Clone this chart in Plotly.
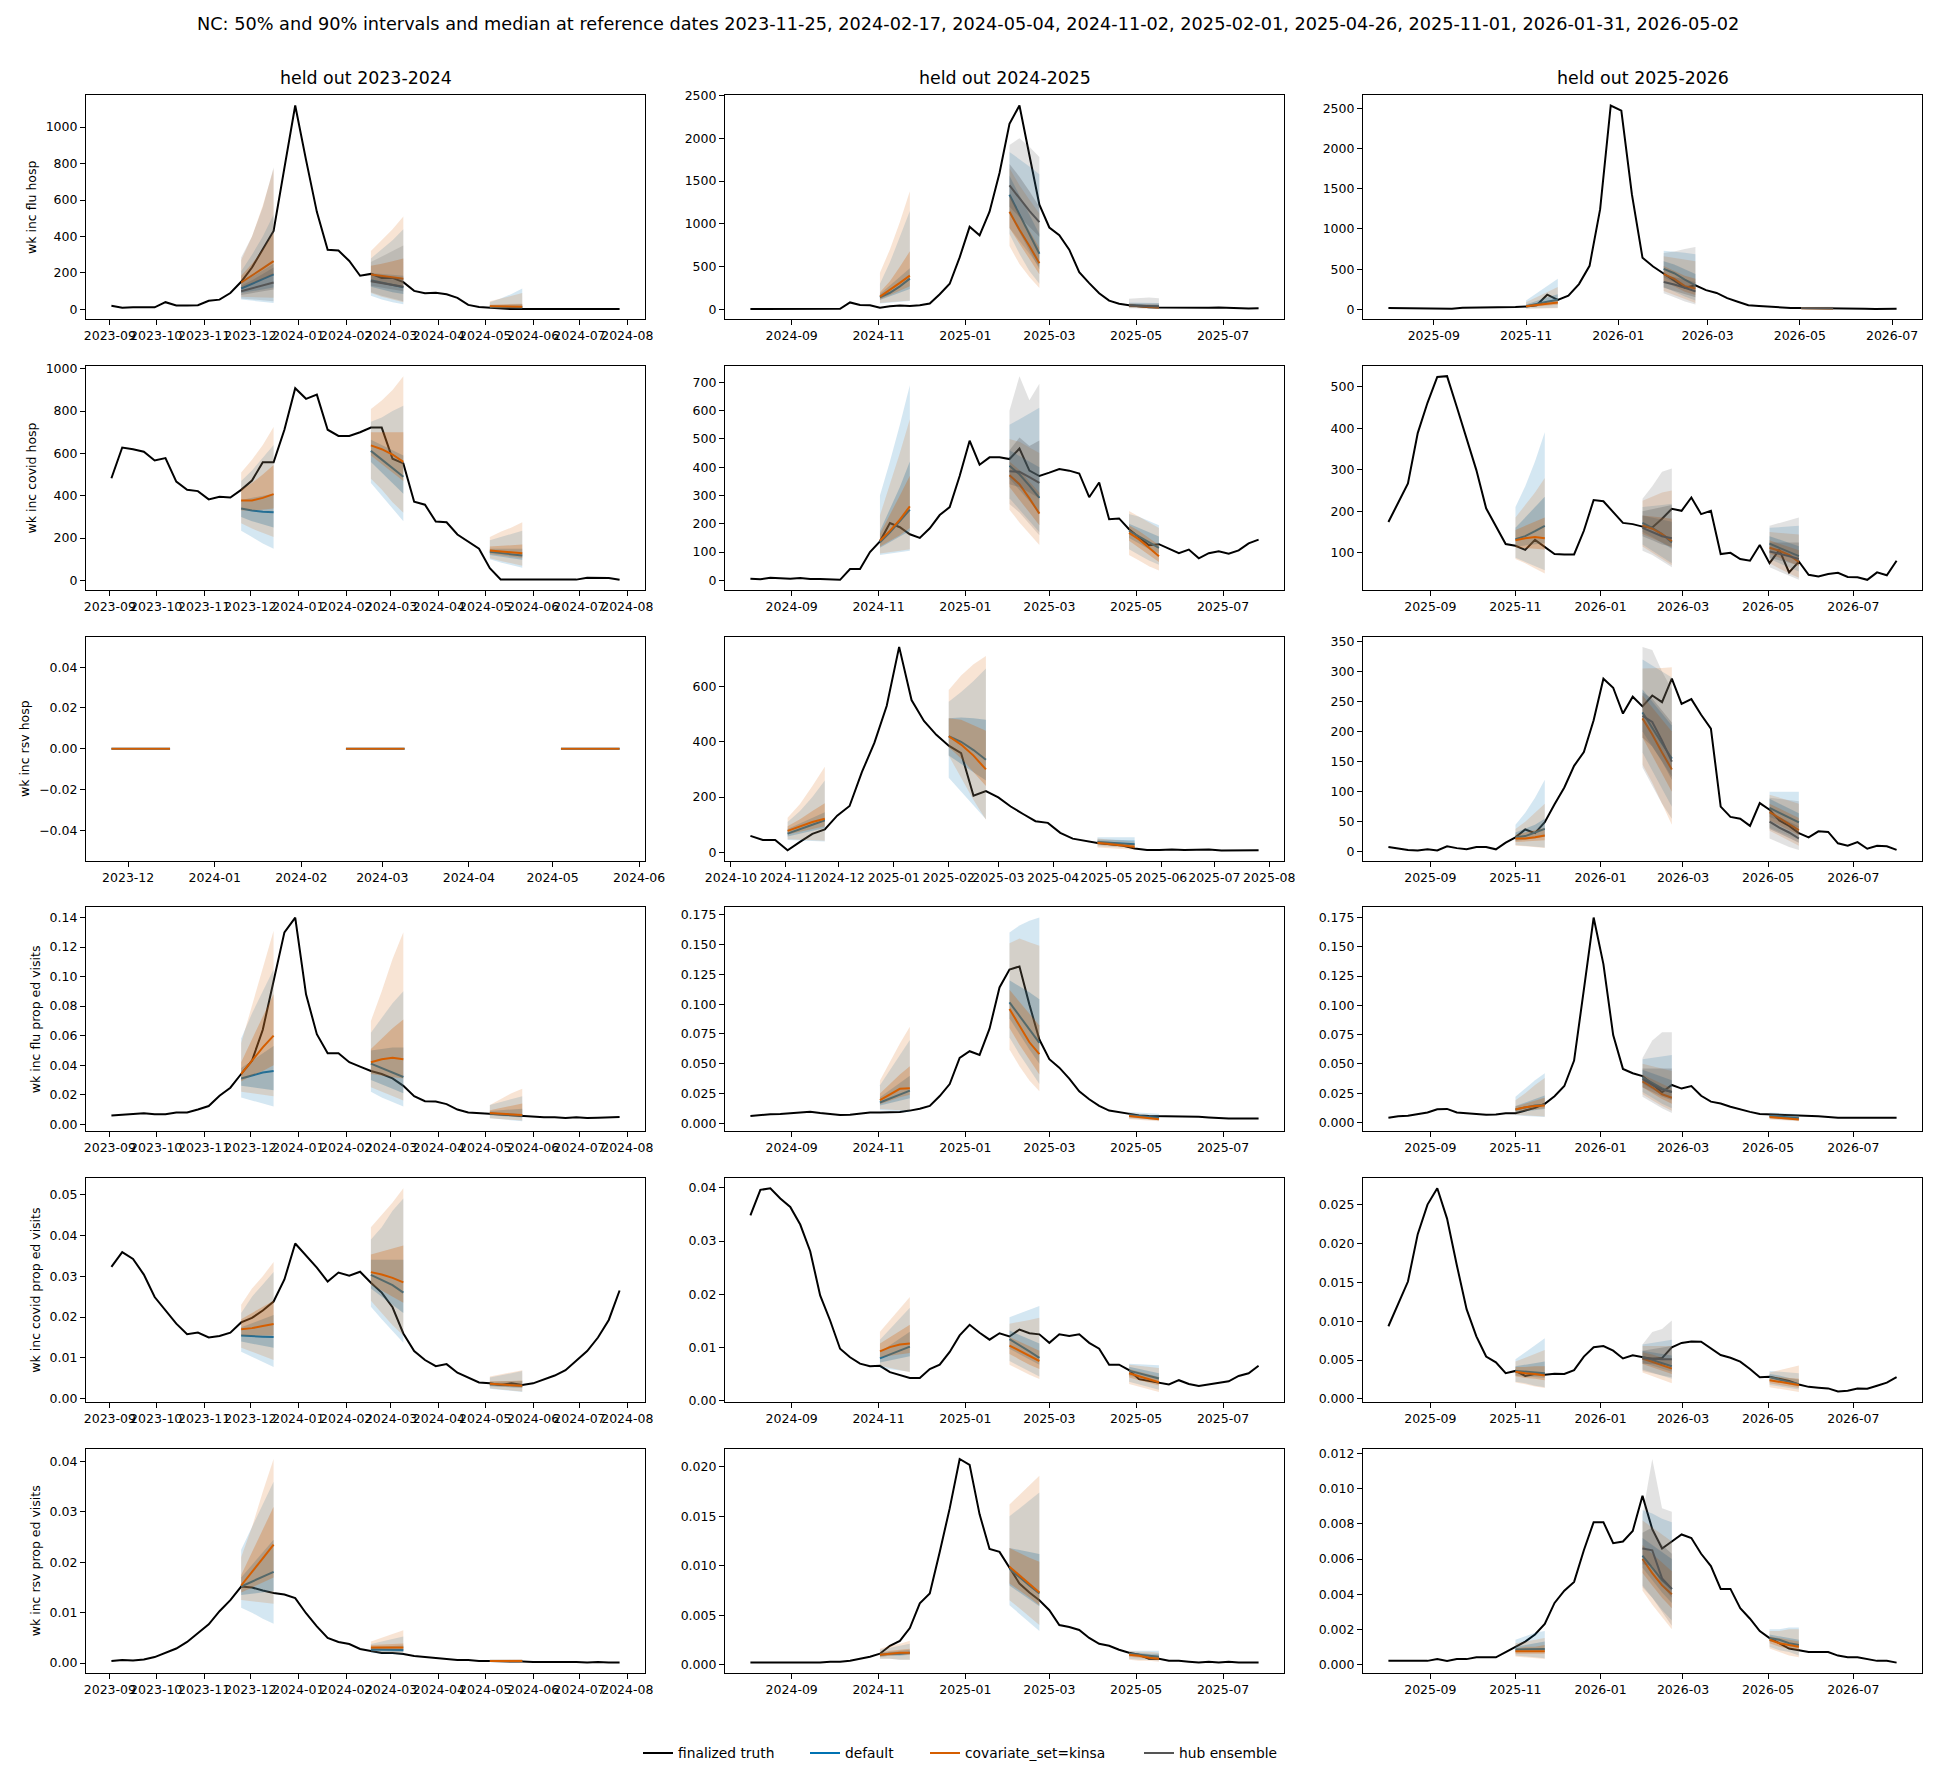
import pandas as pd
import plotly.graph_objects as go
from plotly.subplots import make_subplots

# ---------------------------------------------------------------- data
TARGET_LABELS = ["wk inc flu hosp", "wk inc covid hosp", "wk inc rsv hosp",
                 "wk inc flu prop ed visits", "wk inc covid prop ed visits",
                 "wk inc rsv prop ed visits"]
TARGET_KEYS = ["FLU_HOSP", "COVID_HOSP", "RSV_HOSP", "FLU_ED", "COVID_ED", "RSV_ED"]
SEASON_KEYS = ["2324", "2425", "2526"]
SEASON_TITLES = ["held out 2023-2024", "held out 2024-2025", "held out 2025-2026"]
MODEL_KEYS = ["DEFAULT", "KINSA", "HUB"]
MODEL_NAMES = ["default", "covariate_set=kinsa", "hub ensemble"]
HORIZON_WEEKS = [0, 1, 2, 3]

REF_DATES_2324 = ["2023-11-25", "2024-02-17", "2024-05-04"]
REF_DATES_2425 = ["2024-11-02", "2025-02-01", "2025-04-26"]
REF_DATES_2526 = ["2025-11-01", "2026-01-31", "2026-05-02"]

TRUTH_START_2324 = "2023-09-02"
TRUTH_START_2425 = "2024-08-03"
TRUTH_START_2526 = "2025-08-02"
TRUTH_START_RSV_HOSP_2425 = "2024-10-12"

# finalized truth (weekly)
FLU_HOSP_2324 = [20, 10, 12, 14, 12, 40, 22, 22, 23, 48, 54, 90, 152, 230, 333, 430, 776, 1118, 820, 535,
                 327, 323, 266, 185, 195, 173, 173, 150, 102, 89, 92, 83, 64, 25, 14, 10, 4, 2, 2, 2,
                 2, 2, 2, 2, 3, 4, 4, 2]
COVID_HOSP_2324 = [483, 628, 620, 608, 567, 578, 467, 428, 422, 383, 395, 392, 428, 472, 558, 558, 712, 908,
                   858, 878, 712, 683, 683, 700, 722, 722, 575, 553, 372, 358, 278, 275, 217, 183, 150, 58,
                   5, 4, 3, 3, 4, 4, 4, 4, 13, 12, 12, 3]
RSV_HOSP_2324 = []
FLU_ED_2324 = [0.0059, 0.0064, 0.0069, 0.0074, 0.0067, 0.0067, 0.0079, 0.0079, 0.0099, 0.0123, 0.0193,
               0.0247, 0.034, 0.043, 0.064, 0.096, 0.130, 0.140, 0.088, 0.061, 0.048, 0.048, 0.042, 0.039,
               0.036, 0.034, 0.031, 0.026, 0.019, 0.0156, 0.0153, 0.0136, 0.0099, 0.0079, 0.0074, 0.0069,
               0.0062, 0.0057, 0.0054, 0.0049, 0.0047, 0.0047, 0.0042, 0.0047, 0.0042, 0.0044, 0.0047, 0.0049]
COVID_ED_2324 = [0.0323, 0.0359, 0.0342, 0.0304, 0.0249, 0.0215, 0.0184, 0.0158, 0.0162, 0.015, 0.0154,
                 0.0162, 0.0187, 0.0198, 0.0216, 0.0238, 0.0292, 0.038, 0.035, 0.0321, 0.0287, 0.0309,
                 0.0301, 0.0311, 0.0284, 0.026, 0.0224, 0.016, 0.0117, 0.0095, 0.008, 0.0085, 0.0064,
                 0.0052, 0.004, 0.0038, 0.0034, 0.0038, 0.0034, 0.0038, 0.0047, 0.0057, 0.007, 0.0093,
                 0.0117, 0.015, 0.0193, 0.0265]
RSV_ED_2324 = [0.0004, 0.0006, 0.0005, 0.0007, 0.0012, 0.002, 0.0029, 0.0042, 0.0059, 0.0077, 0.0103,
               0.0125, 0.0152, 0.015, 0.0144, 0.0139, 0.0136, 0.0129, 0.0099, 0.0073, 0.005, 0.0042,
               0.0038, 0.0028, 0.0024, 0.002, 0.002, 0.0018, 0.0014, 0.0012, 0.0009, 0.0008, 0.0006,
               0.0006, 0.0004, 0.0004, 0.0004, 0.0003, 0.0003, 0.0002, 0.0002, 0.0003, 0.0002, 0.0002,
               0.0001, 0.0002, 0.0001, 0.0001]

FLU_HOSP_2425 = [4, 5, 4, 5, 5, 4, 5, 5, 4, 8, 82, 53, 49, 20, 37, 45, 41, 49, 70, 177, 300, 608, 965, 866,
                 1142, 1593, 2168, 2382, 1800, 1224, 957, 866, 698, 435, 308, 189, 103, 66, 49, 37, 25,
                 22, 20, 18, 22, 16, 20, 22, 16, 12, 12, 14]
COVID_HOSP_2425 = [6, 4, 9, 8, 6, 8, 5, 5, 4, 2, 40, 40, 100, 138, 203, 188, 163, 150, 184, 231, 259, 369,
                   494, 409, 435, 435, 429, 466, 388, 369, 381, 394, 388, 378, 294, 346, 216, 219, 181,
                   154, 124, 128, 113, 96, 109, 78, 96, 103, 94, 106, 131, 144]
RSV_HOSP_2425 = [60, 45, 45, 8, 38, 67, 83, 133, 168, 291, 396, 530, 743, 551, 475, 425, 386, 359, 205,
                 222, 199, 166, 139, 113, 107, 71, 50, 41, 34, 30, 25, 14, 9, 9, 11, 9, 9, 11, 7, 7, 7, 8]
FLU_ED_2425 = [0.0061, 0.007, 0.0076, 0.0079, 0.0086, 0.0089, 0.0098, 0.0086, 0.0079, 0.007, 0.0073,
               0.0082, 0.0092, 0.0092, 0.0092, 0.0095, 0.0107, 0.0122, 0.0147, 0.0229, 0.033, 0.055,
               0.0605, 0.0574, 0.0794, 0.114, 0.129, 0.1316, 0.0996, 0.0703, 0.0538, 0.0467, 0.0376,
               0.0269, 0.0202, 0.0147, 0.0107, 0.0092, 0.0079, 0.0067, 0.0061, 0.0061, 0.0061, 0.0061,
               0.0058, 0.0055, 0.0049, 0.0043, 0.004, 0.004, 0.004, 0.004]
COVID_ED_2425 = [0.0348, 0.0396, 0.0399, 0.038, 0.0364, 0.0331, 0.0281, 0.0198, 0.0151, 0.0098, 0.0082,
                 0.007, 0.0065, 0.0066, 0.0054, 0.0049, 0.0043, 0.0043, 0.006, 0.0068, 0.0092, 0.0123,
                 0.0143, 0.0128, 0.0115, 0.0127, 0.0121, 0.0134, 0.0127, 0.0125, 0.0109, 0.0125, 0.0122,
                 0.0125, 0.0109, 0.0098, 0.0068, 0.0068, 0.0058, 0.0041, 0.0038, 0.0034, 0.0031, 0.0039,
                 0.0032, 0.0028, 0.0031, 0.0035, 0.0037, 0.0047, 0.0052, 0.0066]
RSV_ED_2425 = [0.0002, 0.0002, 0.0002, 0.0002, 0.0002, 0.0002, 0.0002, 0.0002, 0.0003, 0.0003, 0.0004,
               0.0006, 0.0008, 0.0011, 0.0019, 0.0024, 0.0037, 0.0062, 0.0072, 0.0114, 0.0158, 0.0208,
               0.0202, 0.0152, 0.0117, 0.0114, 0.0098, 0.0082, 0.0073, 0.0065, 0.0055, 0.004, 0.0038,
               0.0035, 0.0027, 0.0021, 0.0019, 0.0015, 0.0012, 0.001, 0.0006, 0.0006, 0.0004, 0.0004,
               0.0003, 0.0002, 0.0003, 0.0002, 0.0003, 0.0002, 0.0002, 0.0002]

FLU_HOSP_2526 = [17, 15, 14, 13, 12, 10, 9, 22, 22, 22, 26, 26, 30, 35, 52, 183, 118, 170, 315, 542, 1246,
                 2535, 2470, 1430, 642, 533, 446, 358, 270, 300, 240, 205, 140, 96, 52, 44, 35, 17, 17,
                 17, 17, 13, 9, 13, 13, 9, 4, 9, 9]
COVID_HOSP_2526 = [174, 221, 267, 388, 461, 523, 525, 451, 375, 299, 207, 163, 121, 117, 107, 131, 113, 97,
                   96, 96, 153, 227, 224, 199, 172, 169, 163, 161, 182, 206, 201, 233, 193, 201, 97, 100,
                   85, 81, 119, 75, 107, 53, 79, 47, 43, 49, 52, 42, 41, 35, 53, 46, 81]
RSV_HOSP_2526 = [8, 5, 3, 2, 4, 2, 9, 6, 4, 8, 8, 4, 15, 24, 37, 31, 49, 79, 107, 143, 166, 219, 288, 273,
                 230, 258, 242, 260, 249, 288, 246, 254, 228, 205, 75, 58, 55, 43, 81, 70, 52, 43, 31, 24,
                 34, 33, 14, 10, 16, 5, 10, 9, 3]
FLU_ED_2526 = [0.004, 0.0053, 0.0056, 0.0071, 0.0084, 0.0112, 0.0115, 0.0084, 0.0078, 0.0068, 0.0065,
               0.0068, 0.0078, 0.0078, 0.0099, 0.0124, 0.0159, 0.0224, 0.0311, 0.0528, 0.1135, 0.175,
               0.1352, 0.0746, 0.0457, 0.042, 0.0395, 0.0326, 0.0258, 0.032, 0.0289, 0.0311, 0.0227,
               0.0177, 0.0162, 0.0134, 0.0109, 0.009, 0.0071, 0.0068, 0.0068, 0.0068, 0.0062, 0.0059,
               0.0053, 0.0047, 0.004, 0.004, 0.004, 0.0037, 0.0034, 0.0034, 0.004]
COVID_ED_2526 = [0.00935, 0.0122, 0.0151, 0.0212, 0.025, 0.0271, 0.0232, 0.0172, 0.01155, 0.00805,
                 0.00545, 0.0047, 0.0033, 0.0036, 0.00295, 0.0032, 0.0031, 0.00325, 0.0032, 0.0037,
                 0.00545, 0.00665, 0.0068, 0.0062, 0.0052, 0.0056, 0.00535, 0.00515, 0.00525, 0.00665,
                 0.0072, 0.0074, 0.00735, 0.00645, 0.00565, 0.0053, 0.0048, 0.00385, 0.0028, 0.00285,
                 0.00255, 0.0023, 0.00185, 0.00155, 0.00145, 0.00135, 0.00095, 0.00105, 0.00135, 0.0013,
                 0.0017, 0.0021, 0.0028]
RSV_ED_2526 = [0.0002, 0.0002, 0.0002, 0.0002, 0.0002, 0.0003, 0.0002, 0.0003, 0.0003, 0.0004, 0.0004,
               0.0004, 0.0007, 0.001, 0.0013, 0.0017, 0.0023, 0.0035, 0.0042, 0.0047, 0.0065, 0.0081,
               0.0081, 0.0069, 0.007, 0.0076, 0.0096, 0.0077, 0.0066, 0.007, 0.0074, 0.0072, 0.0063,
               0.0056, 0.0043, 0.0043, 0.0032, 0.0026, 0.0019, 0.0015, 0.0012, 0.0009, 0.0008, 0.0007,
               0.0007, 0.0007, 0.0005, 0.0004, 0.0004, 0.0003, 0.0002, 0.0002, 0.0001]

# forecasts: one entry per reference date, each [q05, q25, median, q75, q95] over horizons 0-3
FLU_HOSP_2324_DEFAULT = [
    [[55, 48, 42, 35], [90, 100, 110, 120], [115, 140, 165, 192], [145, 180, 215, 250], [210, 300, 400, 520]],
    [[75, 55, 40, 28], [125, 110, 95, 85], [160, 148, 135, 122], [200, 195, 190, 185], [280, 330, 380, 440]],
    [[5, 4, 3, 2], [10, 9, 8, 7], [15, 14, 13, 12], [22, 24, 26, 28], [40, 60, 85, 115]]]
FLU_HOSP_2324_KINSA = [
    [[70, 68, 66, 64], [120, 145, 170, 195], [148, 185, 225, 265], [185, 250, 330, 420], [270, 400, 570, 770]],
    [[90, 70, 55, 40], [150, 140, 130, 120], [192, 185, 178, 168], [240, 250, 265, 280], [320, 380, 440, 510]],
    [[6, 5, 4, 3], [12, 11, 10, 9], [18, 17, 16, 15], [26, 28, 30, 32], [45, 60, 75, 90]]]
FLU_HOSP_2324_HUB = [
    [[60, 55, 50, 45], [80, 90, 100, 110], [100, 115, 132, 148], [130, 160, 195, 230], [285, 400, 560, 780]],
    [[95, 75, 60, 45], [130, 120, 110, 100], [155, 145, 135, 125], [185, 180, 175, 170], [260, 290, 320, 350]],
    None]
COVID_HOSP_2324_DEFAULT = [
    [[235, 205, 175, 150], [300, 280, 265, 250], [340, 330, 325, 322], [380, 390, 400, 410], [470, 520, 580, 640]],
    [[460, 400, 340, 280], [560, 510, 460, 410], [612, 570, 530, 490], [665, 640, 615, 590], [750, 770, 800, 825]],
    [[100, 85, 72, 60], [120, 112, 105, 98], [135, 130, 125, 118], [150, 150, 150, 150], [190, 205, 220, 235]]]
COVID_HOSP_2324_KINSA = [
    [[270, 245, 225, 205], [330, 330, 335, 340], [378, 378, 390, 408], [430, 460, 500, 545], [510, 570, 640, 725]],
    [[480, 430, 370, 320], [590, 550, 510, 470], [638, 620, 595, 560], [700, 700, 700, 700], [810, 850, 900, 965]],
    [[105, 92, 80, 70], [125, 118, 112, 106], [142, 138, 133, 128], [160, 163, 166, 170], [205, 230, 250, 275]]]
COVID_HOSP_2324_HUB = [None, None, None]
RSV_HOSP_2324_DEFAULT = [
    [[0, 0, 0, 0], [0, 0, 0, 0], [0, 0, 0, 0], [0, 0, 0, 0], [0, 0, 0, 0]],
    [[0, 0, 0, 0], [0, 0, 0, 0], [0, 0, 0, 0], [0, 0, 0, 0], [0, 0, 0, 0]],
    [[0, 0, 0, 0], [0, 0, 0, 0], [0, 0, 0, 0], [0, 0, 0, 0], [0, 0, 0, 0]]]
RSV_HOSP_2324_KINSA = [
    [[0, 0, 0, 0], [0, 0, 0, 0], [0, 0, 0, 0], [0, 0, 0, 0], [0, 0, 0, 0]],
    [[0, 0, 0, 0], [0, 0, 0, 0], [0, 0, 0, 0], [0, 0, 0, 0], [0, 0, 0, 0]],
    [[0, 0, 0, 0], [0, 0, 0, 0], [0, 0, 0, 0], [0, 0, 0, 0], [0, 0, 0, 0]]]
RSV_HOSP_2324_HUB = [None, None, None]
FLU_ED_2324_DEFAULT = [
    [[0.018, 0.016, 0.014, 0.012], [0.026, 0.025, 0.024, 0.023], [0.031, 0.033, 0.035, 0.036], [0.038, 0.043, 0.048, 0.053], [0.058, 0.075, 0.090, 0.105]],
    [[0.022, 0.018, 0.015, 0.012], [0.030, 0.027, 0.024, 0.021], [0.041, 0.038, 0.035, 0.032], [0.050, 0.051, 0.052, 0.052], [0.062, 0.072, 0.082, 0.090]],
    [[0.004, 0.003, 0.0025, 0.002], [0.006, 0.0055, 0.005, 0.0045], [0.0072, 0.0068, 0.0064, 0.006], [0.009, 0.0095, 0.010, 0.0105], [0.013, 0.015, 0.017, 0.019]]]
FLU_ED_2324_KINSA = [
    [[0.022, 0.021, 0.020, 0.019], [0.029, 0.033, 0.036, 0.040], [0.034, 0.043, 0.052, 0.060], [0.042, 0.058, 0.073, 0.088], [0.055, 0.080, 0.105, 0.131]],
    [[0.025, 0.022, 0.019, 0.016], [0.034, 0.033, 0.032, 0.031], [0.042, 0.044, 0.045, 0.044], [0.051, 0.058, 0.065, 0.071], [0.070, 0.090, 0.112, 0.130]],
    [[0.004, 0.0035, 0.003, 0.0025], [0.0062, 0.0058, 0.0055, 0.005], [0.0075, 0.0071, 0.0066, 0.0062], [0.0095, 0.011, 0.0125, 0.014], [0.013, 0.017, 0.021, 0.024]]]
FLU_ED_2324_HUB = [None, None, None]
COVID_ED_2324_DEFAULT = [
    [[0.0115, 0.0103, 0.009, 0.0078], [0.014, 0.0135, 0.013, 0.0125], [0.0155, 0.0153, 0.0152, 0.0151], [0.0175, 0.0185, 0.0195, 0.0205], [0.021, 0.025, 0.028, 0.031]],
    [[0.0225, 0.0195, 0.0165, 0.0137], [0.027, 0.025, 0.023, 0.021], [0.0303, 0.029, 0.0278, 0.026], [0.034, 0.034, 0.034, 0.034], [0.039, 0.042, 0.046, 0.049]],
    [[0.0025, 0.0022, 0.002, 0.0017], [0.0031, 0.003, 0.0028, 0.0027], [0.0036, 0.0035, 0.0033, 0.0032], [0.0042, 0.0042, 0.0043, 0.0044], [0.0052, 0.0057, 0.0063, 0.0068]]]
COVID_ED_2324_KINSA = [
    [[0.0125, 0.0115, 0.0105, 0.0095], [0.0155, 0.0155, 0.0155, 0.0155], [0.017, 0.0173, 0.0178, 0.0183], [0.0195, 0.021, 0.0225, 0.024], [0.023, 0.027, 0.030, 0.0335]],
    [[0.024, 0.021, 0.018, 0.0155], [0.028, 0.0265, 0.025, 0.0235], [0.031, 0.0304, 0.0296, 0.0285], [0.0353, 0.036, 0.0368, 0.0375], [0.042, 0.045, 0.048, 0.0515]],
    [[0.0026, 0.0023, 0.002, 0.0018], [0.0032, 0.003, 0.0029, 0.0028], [0.0037, 0.0035, 0.0034, 0.0032], [0.0043, 0.0043, 0.0044, 0.0045], [0.0055, 0.006, 0.0065, 0.007]]]
COVID_ED_2324_HUB = [None, None, None]
RSV_ED_2324_DEFAULT = [
    [[0.011, 0.010, 0.0088, 0.0078], [0.0135, 0.0138, 0.014, 0.0143], [0.0152, 0.0162, 0.0172, 0.0181], [0.017, 0.0195, 0.022, 0.0245], [0.0225, 0.027, 0.0315, 0.036]],
    [[0.002, 0.0019, 0.0018, 0.0017], [0.0024, 0.0023, 0.0022, 0.0022], [0.0027, 0.0027, 0.0026, 0.0026], [0.0032, 0.0033, 0.0034, 0.0035], [0.0038, 0.0043, 0.0048, 0.0053]],
    [[0.0002, 0.0002, 0.0002, 0.0002], [0.0003, 0.0003, 0.0003, 0.0003], [0.0004, 0.0004, 0.0004, 0.0004], [0.0005, 0.0005, 0.0005, 0.0005], [0.0007, 0.0007, 0.0007, 0.0007]]]
RSV_ED_2324_KINSA = [
    [[0.0125, 0.0123, 0.012, 0.0118], [0.014, 0.015, 0.016, 0.017], [0.0154, 0.018, 0.0208, 0.0235], [0.0175, 0.022, 0.0265, 0.031], [0.021, 0.027, 0.034, 0.0405]],
    [[0.0022, 0.0021, 0.002, 0.0019], [0.0027, 0.0027, 0.0027, 0.0027], [0.0031, 0.0031, 0.0031, 0.0031], [0.0036, 0.0037, 0.0038, 0.0039], [0.0043, 0.005, 0.0057, 0.0065]],
    [[0.0002, 0.0002, 0.0002, 0.0002], [0.0003, 0.0003, 0.0003, 0.0003], [0.0004, 0.0004, 0.0004, 0.0004], [0.0005, 0.0005, 0.0005, 0.0006], [0.0007, 0.0007, 0.0008, 0.0008]]]
RSV_ED_2324_HUB = [None, None, None]

FLU_HOSP_2425_DEFAULT = [
    [[70, 80, 90, 100], [110, 150, 195, 240], [140, 195, 270, 360], [180, 280, 380, 480], [300, 550, 850, 1150]],
    [[880, 650, 450, 300], [1120, 900, 680, 470], [1340, 1110, 880, 650], [1560, 1330, 1100, 880], [1840, 1760, 1670, 1580]],
    [[25, 20, 15, 10], [38, 33, 28, 23], [50, 45, 40, 35], [62, 58, 54, 50], [80, 80, 78, 75]]]
FLU_HOSP_2425_KINSA = [
    [[75, 85, 95, 105], [115, 165, 220, 270], [150, 225, 310, 395], [200, 330, 500, 680], [430, 700, 1020, 1380]],
    [[740, 530, 380, 250], [950, 770, 590, 410], [1140, 930, 740, 540], [1350, 1120, 920, 720], [1650, 1450, 1280, 1120]],
    [[20, 15, 10, 6], [33, 28, 22, 16], [45, 38, 30, 22], [55, 50, 45, 40], [70, 65, 60, 55]]]
FLU_HOSP_2425_HUB = [
    None,
    [[950, 800, 650, 500], [1200, 1080, 960, 850], [1450, 1300, 1150, 1020], [1700, 1550, 1380, 1200], [1920, 2000, 1900, 1780]],
    [[15, 12, 10, 8], [30, 27, 24, 21], [45, 42, 38, 35], [70, 70, 70, 70], [125, 130, 140, 130]]]
COVID_HOSP_2425_DEFAULT = [
    [[90, 95, 100, 105], [115, 135, 155, 175], [135, 170, 210, 250], [175, 250, 330, 420], [300, 420, 550, 690]],
    [[290, 250, 210, 170], [360, 320, 280, 240], [405, 375, 335, 292], [460, 440, 420, 400], [550, 570, 590, 610]],
    [[110, 90, 70, 55], [150, 130, 110, 95], [175, 155, 135, 115], [200, 185, 170, 155], [235, 225, 210, 195]]]
COVID_HOSP_2425_KINSA = [
    [[95, 100, 105, 110], [120, 140, 160, 185], [140, 175, 215, 262], [165, 230, 300, 370], [230, 340, 450, 570]],
    [[250, 205, 165, 125], [330, 285, 240, 195], [372, 340, 290, 236], [420, 390, 350, 310], [500, 490, 470, 450]],
    [[90, 70, 50, 35], [140, 115, 90, 65], [168, 145, 115, 85], [195, 175, 150, 125], [245, 225, 205, 185]]]
COVID_HOSP_2425_HUB = [
    None,
    [[270, 240, 200, 160], [340, 330, 310, 290], [386, 384, 365, 345], [460, 505, 475, 495], [600, 722, 637, 695]],
    None]
RSV_HOSP_2425_DEFAULT = [
    [[45, 44, 42, 40], [58, 68, 78, 88], [68, 85, 100, 116], [85, 105, 125, 145], [110, 150, 200, 260]],
    [[270, 220, 170, 120], [350, 320, 290, 260], [420, 400, 370, 335], [485, 488, 485, 480], [545, 580, 620, 665]],
    [[22, 20, 18, 16], [30, 28, 26, 24], [38, 36, 33, 30], [47, 46, 45, 44], [55, 55, 55, 55]]]
RSV_HOSP_2425_KINSA = [
    [[48, 46, 44, 42], [65, 75, 85, 95], [78, 95, 110, 122], [95, 120, 150, 178], [125, 175, 240, 310]],
    [[350, 270, 190, 118], [380, 340, 290, 240], [420, 390, 350, 300], [485, 480, 460, 440], [587, 640, 680, 710]],
    [[18, 15, 12, 10], [28, 24, 20, 16], [35, 31, 26, 21], [42, 38, 34, 30], [50, 47, 44, 40]]]
RSV_HOSP_2425_HUB = [None, None, None]
FLU_ED_2425_DEFAULT = [
    [[0.011, 0.0105, 0.010, 0.0095], [0.015, 0.017, 0.019, 0.021], [0.0175, 0.021, 0.0245, 0.0275], [0.022, 0.028, 0.034, 0.040], [0.032, 0.045, 0.058, 0.070]],
    [[0.072, 0.058, 0.045, 0.033], [0.088, 0.075, 0.062, 0.050], [0.1015, 0.090, 0.078, 0.0675], [0.120, 0.115, 0.110, 0.104], [0.160, 0.166, 0.170, 0.1726]],
    [[0.004, 0.0035, 0.003, 0.0025], [0.0055, 0.0048, 0.0042, 0.0036], [0.0068, 0.006, 0.0053, 0.0046], [0.008, 0.0073, 0.0066, 0.006], [0.0095, 0.009, 0.0085, 0.008]]]
FLU_ED_2425_KINSA = [
    [[0.012, 0.0115, 0.011, 0.0105], [0.016, 0.019, 0.022, 0.024], [0.0195, 0.0245, 0.029, 0.0295], [0.025, 0.033, 0.041, 0.048], [0.036, 0.052, 0.067, 0.081]],
    [[0.062, 0.048, 0.036, 0.027], [0.080, 0.066, 0.053, 0.041], [0.096, 0.082, 0.068, 0.058], [0.112, 0.102, 0.092, 0.082], [0.151, 0.155, 0.152, 0.149]],
    [[0.0035, 0.0028, 0.0022, 0.0018], [0.005, 0.0042, 0.0035, 0.0028], [0.0062, 0.0052, 0.0043, 0.0035], [0.0075, 0.0065, 0.0056, 0.0048], [0.009, 0.008, 0.007, 0.006]]]
FLU_ED_2425_HUB = [None, None, None]
COVID_ED_2425_DEFAULT = [
    [[0.0062, 0.006, 0.0057, 0.0055], [0.0072, 0.0076, 0.008, 0.0084], [0.008, 0.0087, 0.0095, 0.0102], [0.0092, 0.0105, 0.0118, 0.013], [0.0115, 0.0135, 0.0155, 0.0175]],
    [[0.0075, 0.0065, 0.0055, 0.0046], [0.0098, 0.0088, 0.0078, 0.0068], [0.0116, 0.0105, 0.0093, 0.0081], [0.0132, 0.0124, 0.0116, 0.0108], [0.0157, 0.0164, 0.0171, 0.0178]],
    [[0.0036, 0.0031, 0.0026, 0.0021], [0.0048, 0.0043, 0.0038, 0.0033], [0.0057, 0.0052, 0.0047, 0.0042], [0.0064, 0.006, 0.0056, 0.0052], [0.007, 0.0069, 0.0068, 0.0067]]]
COVID_ED_2425_KINSA = [
    [[0.0066, 0.0062, 0.0058, 0.0054], [0.0082, 0.0085, 0.0088, 0.009], [0.0093, 0.0101, 0.0106, 0.0108], [0.0108, 0.012, 0.0132, 0.0143], [0.013, 0.0151, 0.0172, 0.0195]],
    [[0.0068, 0.0058, 0.0049, 0.0041], [0.0088, 0.0078, 0.0068, 0.006], [0.0104, 0.0094, 0.0084, 0.0075], [0.012, 0.0111, 0.0102, 0.0094], [0.0145, 0.0148, 0.0152, 0.0156]],
    [[0.0032, 0.0027, 0.0022, 0.0017], [0.0044, 0.0039, 0.0034, 0.0029], [0.0052, 0.0046, 0.004, 0.0035], [0.006, 0.0055, 0.005, 0.0045], [0.0068, 0.0066, 0.0064, 0.0062]]]
COVID_ED_2425_HUB = [None, None, None]
RSV_ED_2425_DEFAULT = [
    [[0.0006, 0.0006, 0.0005, 0.0005], [0.0008, 0.0009, 0.0009, 0.001], [0.001, 0.0011, 0.0011, 0.0012], [0.0012, 0.0013, 0.0014, 0.0015], [0.0015, 0.0017, 0.0019, 0.0021]],
    [[0.006, 0.0052, 0.0043, 0.0034], [0.008, 0.0073, 0.0066, 0.0059], [0.0097, 0.0088, 0.008, 0.0072], [0.0118, 0.0116, 0.0114, 0.0112], [0.015, 0.0158, 0.0166, 0.0174]],
    [[0.0006, 0.0005, 0.0005, 0.0004], [0.0009, 0.0008, 0.0007, 0.0006], [0.0011, 0.001, 0.0009, 0.0008], [0.0012, 0.0012, 0.0011, 0.0011], [0.0014, 0.0014, 0.0014, 0.0014]]]
RSV_ED_2425_KINSA = [
    [[0.0006, 0.0006, 0.0005, 0.0005], [0.0008, 0.0009, 0.001, 0.001], [0.001, 0.0011, 0.0012, 0.0012], [0.0012, 0.0014, 0.0015, 0.0016], [0.0016, 0.0019, 0.0021, 0.0024]],
    [[0.0065, 0.0057, 0.0049, 0.004], [0.0082, 0.0075, 0.0068, 0.006], [0.0099, 0.009, 0.0081, 0.0073], [0.0118, 0.0113, 0.0108, 0.0104], [0.0162, 0.0172, 0.0182, 0.0191]],
    [[0.0005, 0.0004, 0.0004, 0.0003], [0.0008, 0.0007, 0.0006, 0.0005], [0.001, 0.0009, 0.0007, 0.0006], [0.0012, 0.0011, 0.001, 0.0009], [0.0014, 0.0013, 0.0013, 0.0012]]]
RSV_ED_2425_HUB = [None, None, None]

FLU_HOSP_2526_DEFAULT = [
    [[12, 15, 18, 20], [28, 45, 60, 75], [40, 70, 95, 120], [60, 110, 150, 190], [110, 200, 290, 380]],
    [[280, 220, 160, 110], [400, 340, 270, 210], [505, 450, 370, 300], [600, 560, 500, 440], [730, 720, 705, 686]],
    [[8, 7, 6, 5], [12, 11, 10, 9], [17, 16, 15, 14], [22, 22, 22, 22], [28, 29, 30, 30]]]
FLU_HOSP_2526_KINSA = [
    [[10, 12, 14, 16], [28, 38, 48, 58], [40, 55, 70, 85], [55, 80, 105, 130], [90, 150, 210, 280]],
    [[230, 180, 130, 80], [350, 290, 220, 180], [440, 380, 290, 260], [540, 480, 420, 380], [660, 640, 620, 600]],
    [[7, 6, 5, 4], [11, 10, 9, 8], [15, 14, 13, 12], [20, 20, 20, 20], [26, 27, 28, 28]]]
FLU_HOSP_2526_HUB = [
    None,
    [[200, 150, 100, 60], [270, 230, 190, 150], [340, 310, 270, 225], [430, 400, 370, 340], [700, 720, 750, 775]],
    [[6, 5, 5, 4], [11, 10, 10, 9], [16, 15, 15, 14], [22, 22, 22, 22], [30, 32, 33, 34]]]
COVID_HOSP_2526_DEFAULT = [
    [[88, 78, 68, 58], [115, 118, 120, 123], [133, 140, 152, 165], [160, 185, 210, 235], [210, 260, 320, 390]],
    [[120, 105, 90, 75], [150, 138, 125, 110], [172, 160, 145, 125], [190, 185, 180, 175], [210, 212, 215, 218]],
    [[85, 75, 65, 55], [105, 97, 88, 80], [122, 112, 102, 92], [140, 132, 124, 116], [160, 162, 163, 165]]]
COVID_HOSP_2526_KINSA = [
    [[85, 75, 62, 50], [113, 112, 110, 108], [130, 135, 138, 135], [155, 165, 175, 185], [185, 215, 245, 280]],
    [[115, 100, 85, 70], [145, 135, 125, 112], [166, 158, 145, 128], [190, 188, 185, 182], [225, 235, 245, 250]],
    [[75, 62, 50, 40], [98, 88, 78, 68], [112, 105, 95, 78], [130, 122, 114, 106], [150, 148, 146, 144]]]
COVID_HOSP_2526_HUB = [
    None,
    [[105, 95, 80, 65], [140, 130, 120, 115], [160, 150, 140, 135], [200, 205, 210, 215], [230, 260, 295, 303]],
    [[65, 55, 45, 35], [88, 82, 76, 70], [103, 98, 92, 85], [125, 125, 125, 125], [165, 172, 178, 185]]]
RSV_HOSP_2526_DEFAULT = [
    [[11, 10, 8, 7], [18, 20, 22, 25], [24, 26, 32, 38], [32, 38, 45, 55], [45, 65, 90, 120]],
    [[165, 135, 105, 75], [200, 175, 150, 125], [232, 205, 180, 155], [270, 250, 230, 210], [320, 310, 300, 290]],
    [[40, 33, 26, 20], [58, 52, 46, 40], [73, 65, 57, 49], [88, 80, 72, 64], [100, 100, 100, 100]]]
RSV_HOSP_2526_KINSA = [
    [[10, 9, 8, 6], [16, 17, 18, 19], [22, 22, 24, 27], [28, 32, 36, 40], [38, 50, 65, 80]],
    [[145, 115, 80, 45], [190, 160, 130, 100], [222, 195, 165, 137], [260, 240, 220, 200], [305, 305, 306, 307]],
    [[35, 26, 18, 10], [52, 44, 36, 28], [66, 56, 46, 36], [80, 72, 64, 56], [95, 90, 85, 80]]]
RSV_HOSP_2526_HUB = [
    None,
    [[140, 110, 80, 55], [190, 175, 150, 120], [226, 216, 185, 150], [265, 255, 235, 215], [341, 336, 300, 270]],
    [[22, 15, 8, 3], [38, 30, 23, 15], [50, 40, 32, 22], [65, 58, 50, 42], [90, 88, 86, 84]]]
FLU_ED_2526_DEFAULT = [
    [[0.006, 0.0055, 0.005, 0.0045], [0.0085, 0.0095, 0.0105, 0.0115], [0.011, 0.013, 0.0145, 0.015], [0.014, 0.017, 0.020, 0.023], [0.022, 0.029, 0.036, 0.042]],
    [[0.026, 0.021, 0.016, 0.012], [0.033, 0.028, 0.024, 0.020], [0.0385, 0.034, 0.029, 0.026], [0.045, 0.042, 0.039, 0.036], [0.054, 0.055, 0.056, 0.0575]],
    [[0.003, 0.0025, 0.002, 0.0015], [0.0045, 0.0038, 0.0032, 0.0026], [0.0055, 0.0048, 0.0042, 0.0036], [0.0068, 0.0062, 0.0056, 0.005], [0.0085, 0.008, 0.0075, 0.007]]]
FLU_ED_2526_KINSA = [
    [[0.0065, 0.006, 0.0055, 0.005], [0.009, 0.010, 0.011, 0.012], [0.011, 0.013, 0.014, 0.0145], [0.0135, 0.016, 0.0185, 0.021], [0.019, 0.025, 0.032, 0.038]],
    [[0.024, 0.019, 0.014, 0.010], [0.030, 0.025, 0.020, 0.016], [0.035, 0.030, 0.024, 0.021], [0.041, 0.037, 0.033, 0.029], [0.050, 0.048, 0.046, 0.044]],
    [[0.0025, 0.002, 0.0015, 0.001], [0.0036, 0.003, 0.0024, 0.0018], [0.0045, 0.0038, 0.0031, 0.0025], [0.0058, 0.0052, 0.0046, 0.004], [0.0075, 0.007, 0.0065, 0.006]]]
FLU_ED_2526_HUB = [
    None,
    [[0.022, 0.017, 0.012, 0.008], [0.030, 0.026, 0.022, 0.019], [0.037, 0.032, 0.028, 0.026], [0.046, 0.046, 0.046, 0.046], [0.055, 0.070, 0.077, 0.077]],
    None]
COVID_ED_2526_DEFAULT = [
    [[0.0022, 0.002, 0.0017, 0.0015], [0.003, 0.0029, 0.0028, 0.0027], [0.0036, 0.0035, 0.0034, 0.0033], [0.0042, 0.0044, 0.0046, 0.0048], [0.0051, 0.006, 0.0069, 0.0078]],
    [[0.0038, 0.0034, 0.003, 0.0026], [0.0047, 0.0043, 0.0039, 0.0035], [0.0054, 0.005, 0.0046, 0.0042], [0.0062, 0.006, 0.0058, 0.0056], [0.007, 0.0072, 0.0074, 0.0076]],
    [[0.0018, 0.0016, 0.0014, 0.0012], [0.0024, 0.0021, 0.0019, 0.0016], [0.0028, 0.0025, 0.0022, 0.0019], [0.0032, 0.003, 0.0027, 0.0025], [0.0036, 0.0035, 0.0034, 0.0033]]]
COVID_ED_2526_KINSA = [
    [[0.0021, 0.0019, 0.0016, 0.0014], [0.0029, 0.0027, 0.0026, 0.0024], [0.0035, 0.0033, 0.0032, 0.003], [0.0041, 0.0041, 0.0042, 0.0042], [0.0048, 0.0053, 0.0058, 0.0063]],
    [[0.0034, 0.003, 0.0025, 0.002], [0.0045, 0.0041, 0.0036, 0.0032], [0.0052, 0.0048, 0.0043, 0.0039], [0.006, 0.0057, 0.0053, 0.005], [0.0068, 0.0068, 0.0068, 0.0068]],
    [[0.0015, 0.0013, 0.0011, 0.0009], [0.002, 0.0018, 0.0016, 0.0014], [0.0024, 0.0022, 0.002, 0.0018], [0.0029, 0.0028, 0.0027, 0.0026], [0.0034, 0.0037, 0.004, 0.0043]]]
COVID_ED_2526_HUB = [
    None,
    [[0.0036, 0.0033, 0.003, 0.0028], [0.0045, 0.0045, 0.0044, 0.0044], [0.0052, 0.0052, 0.0051, 0.0051], [0.0062, 0.0064, 0.0066, 0.0068], [0.007, 0.0086, 0.009, 0.0101]],
    None]
RSV_ED_2526_DEFAULT = [
    [[0.0005, 0.00045, 0.0004, 0.00035], [0.0007, 0.0007, 0.0007, 0.0007], [0.00085, 0.00085, 0.00086, 0.00087], [0.001, 0.0011, 0.0012, 0.0013], [0.0014, 0.0016, 0.0018, 0.0019]],
    [[0.0045, 0.0038, 0.0031, 0.0025], [0.0055, 0.0048, 0.0041, 0.0035], [0.0062, 0.0055, 0.0048, 0.0043], [0.0072, 0.0068, 0.0064, 0.006], [0.0088, 0.0086, 0.0083, 0.0081]],
    [[0.001, 0.0008, 0.0007, 0.0005], [0.0013, 0.0012, 0.001, 0.0009], [0.0015, 0.0014, 0.0012, 0.0011], [0.0017, 0.0016, 0.0015, 0.0014], [0.002, 0.002, 0.0021, 0.0021]]]
RSV_ED_2526_KINSA = [
    [[0.00045, 0.0004, 0.00035, 0.0003], [0.0006, 0.0006, 0.0006, 0.0006], [0.00075, 0.00075, 0.00075, 0.00075], [0.0009, 0.001, 0.001, 0.0011], [0.0012, 0.0013, 0.0014, 0.0015]],
    [[0.0042, 0.0034, 0.0027, 0.002], [0.0052, 0.0045, 0.0038, 0.0032], [0.006, 0.0052, 0.0045, 0.004], [0.0068, 0.0063, 0.0058, 0.0053], [0.0082, 0.0078, 0.0074, 0.007]],
    [[0.0009, 0.0007, 0.0005, 0.0004], [0.0012, 0.001, 0.0009, 0.0008], [0.0014, 0.0012, 0.0011, 0.001], [0.0016, 0.0015, 0.0014, 0.0013], [0.0019, 0.0019, 0.002, 0.002]]]
RSV_ED_2526_HUB = [
    None,
    [[0.0044, 0.0038, 0.003, 0.0022], [0.0057, 0.0056, 0.0045, 0.0038], [0.0066, 0.0065, 0.0049, 0.0043], [0.0075, 0.0078, 0.0068, 0.0063], [0.0085, 0.0117, 0.0089, 0.0087]],
    None]

# ---------------------------------------------------------------- styling / layout
W, H = 1935, 1776
FONT = "DejaVu Sans"
MODEL_COLORS = ["#0072B2", "#D55E00", "#555555"]
ALPHA90, ALPHA50 = 0.17, 0.28
COL_PX = [(86, 645), (725, 1284), (1363, 1922)]
ROW_TOP0, ROW_PITCH, ROW_H = 95.3, 270.7, 224.0
Y_DTICK = [[200, 500, 500], [200, 100, 100], [0.02, 200, 50],
           [0.02, 0.025, 0.025], [0.01, 0.01, 0.005], [0.01, 0.005, 0.002]]
Y_FMT = [["d", "d", "d"], ["d", "d", "d"], [".2f", "d", "d"],
         [".2f", ".3f", ".3f"], [".2f", ".2f", ".3f"], [".2f", ".3f", ".3f"]]
X_TICK0 = ["2023-09-01", "2024-09-01", "2025-09-01"]
X_DTICK = [["M1", "M2", "M2"], ["M1", "M2", "M2"], ["M1", "M1", "M2"],
           ["M1", "M2", "M2"], ["M1", "M2", "M2"], ["M1", "M2", "M2"]]
TICK_FONT = dict(family=FONT, size=12.5, color="black")


def rgba(hex_color, a):
    h = hex_color.lstrip("#")
    r, g, b = int(h[0:2], 16), int(h[2:4], 16), int(h[4:6], 16)
    return f"rgba({r},{g},{b},{a})"


G = globals()
REF_DATES = {"2324": REF_DATES_2324, "2425": REF_DATES_2425, "2526": REF_DATES_2526}
TRUTH_START = {"2324": TRUTH_START_2324, "2425": TRUTH_START_2425, "2526": TRUTH_START_2526}

fig = make_subplots(rows=6, cols=3)

for r, tkey in enumerate(TARGET_KEYS):
    for c, skey in enumerate(SEASON_KEYS):
        name = f"{tkey}_{skey}"
        truth = G[name]
        start = G.get(f"TRUTH_START_{name}", TRUTH_START[skey])
        tdates = pd.date_range(start, periods=len(truth), freq="7D")
        all_x = list(tdates)
        all_y = list(truth)
        row, col = r + 1, c + 1
        if len(truth):
            fig.add_trace(go.Scatter(x=tdates, y=truth, mode="lines", showlegend=False,
                                     line=dict(color="black", width=2), hoverinfo="skip"),
                          row=row, col=col)
        for m, mkey in enumerate(MODEL_KEYS):
            fc = G[f"{name}_{mkey}"]
            color = MODEL_COLORS[m]
            for i, ref in enumerate(REF_DATES[skey]):
                q = fc[i]
                if q is None:
                    continue
                xs = [pd.Timestamp(ref) + pd.Timedelta(weeks=h) for h in HORIZON_WEEKS]
                q05, q25, q50, q75, q95 = q
                all_x += xs
                all_y += q05 + q95 + q50
                fig.add_trace(go.Scatter(x=xs + xs[::-1], y=q95 + q05[::-1], fill="toself",
                                         mode="lines", line=dict(width=0),
                                         fillcolor=rgba(color, ALPHA90), showlegend=False,
                                         hoverinfo="skip"), row=row, col=col)
                fig.add_trace(go.Scatter(x=xs + xs[::-1], y=q75 + q25[::-1], fill="toself",
                                         mode="lines", line=dict(width=0),
                                         fillcolor=rgba(color, ALPHA50), showlegend=False,
                                         hoverinfo="skip"), row=row, col=col)
                fig.add_trace(go.Scatter(x=xs, y=q50, mode="lines", showlegend=False,
                                         line=dict(color=color, width=2), hoverinfo="skip"),
                              row=row, col=col)
        # matplotlib-like autoscale with 5% margins
        xmin, xmax = min(all_x), max(all_x)
        dx = (xmax - xmin) * 0.05
        ymin, ymax = min(all_y), max(all_y)
        if ymax == ymin:
            ymin, ymax = ymin - 0.05, ymax + 0.05
        dy = (ymax - ymin) * 0.05
        idx = r * 3 + c + 1
        xa = "xaxis" if idx == 1 else f"xaxis{idx}"
        ya = "yaxis" if idx == 1 else f"yaxis{idx}"
        x0, x1 = COL_PX[c]
        top = ROW_TOP0 + ROW_PITCH * r
        bot = top + ROW_H
        axis_common = dict(showline=True, linecolor="black", linewidth=1.1, mirror=True,
                           ticks="outside", ticklen=5, tickwidth=1.1, tickcolor="black",
                           showgrid=False, zeroline=False, tickfont=TICK_FONT,
                           automargin=False)
        fig.layout[xa].update(domain=[x0 / W, x1 / W], type="date",
                              range=[xmin - dx, xmax + dx], tickformat="%Y-%m",
                              dtick=X_DTICK[r][c], tick0=X_TICK0[c], tickangle=0,
                              **axis_common)
        fig.layout[ya].update(domain=[1 - bot / H, 1 - top / H],
                              range=[ymin - dy, ymax + dy], dtick=Y_DTICK[r][c], tick0=0,
                              tickformat=Y_FMT[r][c], **axis_common)
        if c == 0:
            fig.layout[ya].update(title=dict(text=TARGET_LABELS[r],
                                             font=dict(family=FONT, size=12.5, color="black"),
                                             standoff=6))

# legend: one legend box per entry so spacing matches the reference
LEGEND_ITEMS = [("finalized truth", "black"), ("default", MODEL_COLORS[0]),
                ("covariate_set=kinsa", MODEL_COLORS[1]), ("hub ensemble", MODEL_COLORS[2])]
LEGEND_LINE_X = [646, 813, 933, 1147]
legend_layout = {}
for j, (label, color) in enumerate(LEGEND_ITEMS):
    key = "legend" if j == 0 else f"legend{j + 1}"
    fig.add_trace(go.Scatter(x=[None], y=[None], mode="lines", name=label,
                             line=dict(color=color, width=2), legend=key, showlegend=True))
    legend_layout[key] = dict(x=(LEGEND_LINE_X[j] - 8) / W, xanchor="left",
                              y=1 - 1753 / H, yanchor="middle", orientation="h",
                              bgcolor="rgba(0,0,0,0)", borderwidth=0,
                              font=dict(family=FONT, size=13.8, color="black"))

annotations = [dict(text="NC: 50% and 90% intervals and median at reference dates "
                         + ", ".join(REF_DATES_2324 + REF_DATES_2425 + REF_DATES_2526),
                    x=0.5, y=1 - 24 / H, xref="paper", yref="paper", showarrow=False,
                    xanchor="center", yanchor="middle",
                    font=dict(family=FONT, size=17.7, color="black"))]
for c, title in enumerate(SEASON_TITLES):
    x0, x1 = COL_PX[c]
    annotations.append(dict(text=title, x=(x0 + x1) / 2 / W, y=1 - 78 / H, xref="paper",
                            yref="paper", showarrow=False, xanchor="center", yanchor="middle",
                            font=dict(family=FONT, size=17.4, color="black")))

fig.update_layout(width=W, height=H, margin=dict(l=0, r=0, t=0, b=0, autoexpand=False),
                  paper_bgcolor="white", plot_bgcolor="white",
                  font=dict(family=FONT, color="black"),
                  annotations=annotations, showlegend=True, **legend_layout)

fig.write_html("out.html")
